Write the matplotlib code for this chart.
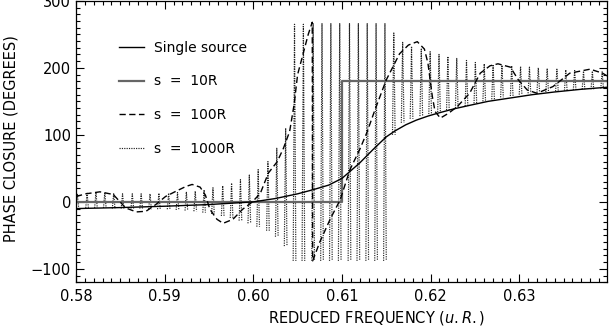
import matplotlib.pyplot as plt
import numpy as np
from matplotlib.lines import Line2D

### Data

# single source step (gray)
step_x = [0.58, 0.61, 0.61, 0.6399]
step_y = [0, 0, 180, 180]

# smooth curve (black)
smooth_x = [0.580, 0.585, 0.590, 0.595, 0.600, 0.6025, 0.605, 0.6067, 0.6085, 0.6100,
            0.6120, 0.6135, 0.6150, 0.6160, 0.6172, 0.6184, 0.6197, 0.6210, 0.6227, 0.6244,
            0.6265, 0.6290, 0.6315, 0.6340, 0.6370, 0.6399]
smooth_y = [-10, -8.5, -6.5, -4, 0, 5, 12, 18, 25, 35,
            58, 78, 97, 106, 115, 122, 128, 133, 139, 144,
            150, 155, 160, 164, 168, 171]

# s = 100R (dashed)
dash_x = [0.5800, 0.5811, 0.5827, 0.5842, 0.5849, 0.5856, 0.5868, 0.5879, 0.5890, 0.5901,
          0.5913, 0.5924, 0.5931, 0.5940, 0.5946, 0.5951, 0.5959, 0.5966, 0.5977, 0.5988,
          0.5999, 0.6008, 0.6017, 0.6027, 0.6034, 0.6041, 0.6046, 0.6050, 0.6056, 0.6062,
          0.60665, 0.60670, 0.6075, 0.6087, 0.6098, 0.6109, 0.6120, 0.6128, 0.6138, 0.6150,
          0.6165, 0.6175, 0.6185, 0.6193, 0.6197, 0.6202, 0.6205, 0.6211, 0.6220, 0.6230,
          0.6244, 0.6256, 0.6267, 0.6276, 0.6290, 0.6299, 0.6309, 0.6320, 0.6338, 0.6357,
          0.6380, 0.6394, 0.6399]
dash_y = [8, 12, 15, 11, 1, -9, -15, -14, -4, 8,
          16, 23, 26, 22, 10, -11, -26, -32, -26, -11,
          0, 13, 43, 60, 80, 105, 145, 190, 220, 250,
          268, -88, -60, -25, 3, 48, 78, 103, 140, 182,
          221, 234, 239, 228, 207, 157, 135, 125, 132, 142,
          162, 192, 203, 206, 201, 182, 167, 162, 172, 192,
          198, 192, 188]

# s = 1000R (dotted): stripe positions, tops and bottoms
dot_x = [0.5800, 0.5811, 0.5821, 0.5831, 0.5841, 0.5851, 0.5862, 0.5872, 0.5882, 0.5892,
         0.5903, 0.5913, 0.5923, 0.5933, 0.5943, 0.5953, 0.5964, 0.5974, 0.5984, 0.5994,
         0.6004, 0.6015, 0.6025, 0.6035, 0.6045, 0.6055, 0.6066, 0.6076, 0.6086, 0.6096,
         0.6107, 0.6117, 0.6127, 0.6137, 0.6147, 0.6157, 0.6167, 0.6177, 0.6188, 0.6198,
         0.6208, 0.6218, 0.6228, 0.6239, 0.6249, 0.6259, 0.6269, 0.6279, 0.6290, 0.6300,
         0.6310, 0.6320, 0.6330, 0.6341, 0.6351, 0.6361, 0.6371, 0.6381, 0.6392]
dot_hi = [12, 13, 14, 14, 13, 12, 12, 12, 12, 13,
          13, 14, 15, 16, 18, 21, 24, 28, 33, 40,
          48, 60, 80, 110, 265, 265, 266, 266, 266, 266,
          266, 266, 266, 266, 266, 252, 238, 232, 228, 224,
          220, 217, 214, 211, 208, 206, 205, 204, 203, 202,
          201, 200, 199, 198, 197, 196, 195, 195, 194]
dot_lo = [-9, -9, -9, -9, -10, -10, -10, -10, -11, -11,
          -11, -12, -13, -14, -16, -18, -21, -24, -28, -32,
          -37, -43, -52, -66, -88, -88, -88, -88, -88, -88,
          -88, -88, -88, -88, -88, 100, 118, 124, 128, 131,
          134, 137, 140, 143, 147, 150, 153, 156, 158, 160,
          162, 163, 164, 165, 166, 167, 168, 168, 169]

labels = ["Single source", "s  =  10R", "s  =  100R", "s  =  1000R"]

plt.rcParams['font.family'] = ['DejaVu Sans']

fig = plt.figure(figsize=(6.16, 3.29), dpi=100)
ax = fig.add_axes([76/616, 1-282.3/329, (607-76)/616, 281.5/329])

# stripes of the s=1000R curve, broken apart with NaN
sx, sy = [], []
for x, hi, lo in zip(dot_x, dot_hi, dot_lo):
    sx += [x, x+0.00015, x+0.0003, np.nan]
    sy += [lo, hi, lo, np.nan]
ax.plot(sx, sy, color='#222222', lw=0.85, linestyle=(0, (1, 1)))

ax.plot(step_x, step_y, color='#666666', lw=1.6)
ax.plot(smooth_x, smooth_y, color='black', lw=1.0)
ax.plot(dash_x, dash_y, color='black', lw=1.0, linestyle=(0, (4.5, 2.5)))

handles = [Line2D([], [], color='black', lw=1.0),
           Line2D([], [], color='#666666', lw=1.6),
           Line2D([], [], color='black', lw=1.0, linestyle=(0, (4.5, 2.5))),
           Line2D([], [], color='#222222', lw=0.85, linestyle=(0, (1, 1)))]
ax.legend(handles, labels, loc='upper left', bbox_to_anchor=(0.081, 0.858), frameon=False,
          fontsize=10, handlelength=1.8, handletextpad=0.72, labelspacing=1.42,
          borderpad=0, borderaxespad=0)

ax.set_xlim(0.58, 0.6399)
ax.set_ylim(-120, 300)
ax.set_xticks([0.58, 0.59, 0.60, 0.61, 0.62, 0.63])
ax.set_xticklabels(["0.58", "0.59", "0.60", "0.61", "0.62", "0.63"])
ax.set_xticks(np.arange(0.581, 0.6399, 0.001), minor=True)
ax.set_yticks([-100, 0, 100, 200, 300])
ax.set_yticks(np.arange(-120, 301, 10), minor=True)
ax.tick_params(which='both', direction='in', top=True, right=True, labelsize=10.5)
ax.tick_params(which='major', length=6, width=0.8)
ax.tick_params(axis='x', which='major', pad=5)
ax.tick_params(which='minor', length=3, width=0.8)
for s in ax.spines.values():
    s.set_linewidth(0.9)

ax.set_xlabel(r"REDUCED FREQUENCY ($u.R.$)", fontsize=10.5)
ax.xaxis.set_label_coords(0.567, -0.095)
ax.set_ylabel("PHASE CLOSURE (DEGREES)", fontsize=10.5)
ax.yaxis.set_label_coords(-0.108, 0.51)

plt.savefig("out.png", dpi=100)
